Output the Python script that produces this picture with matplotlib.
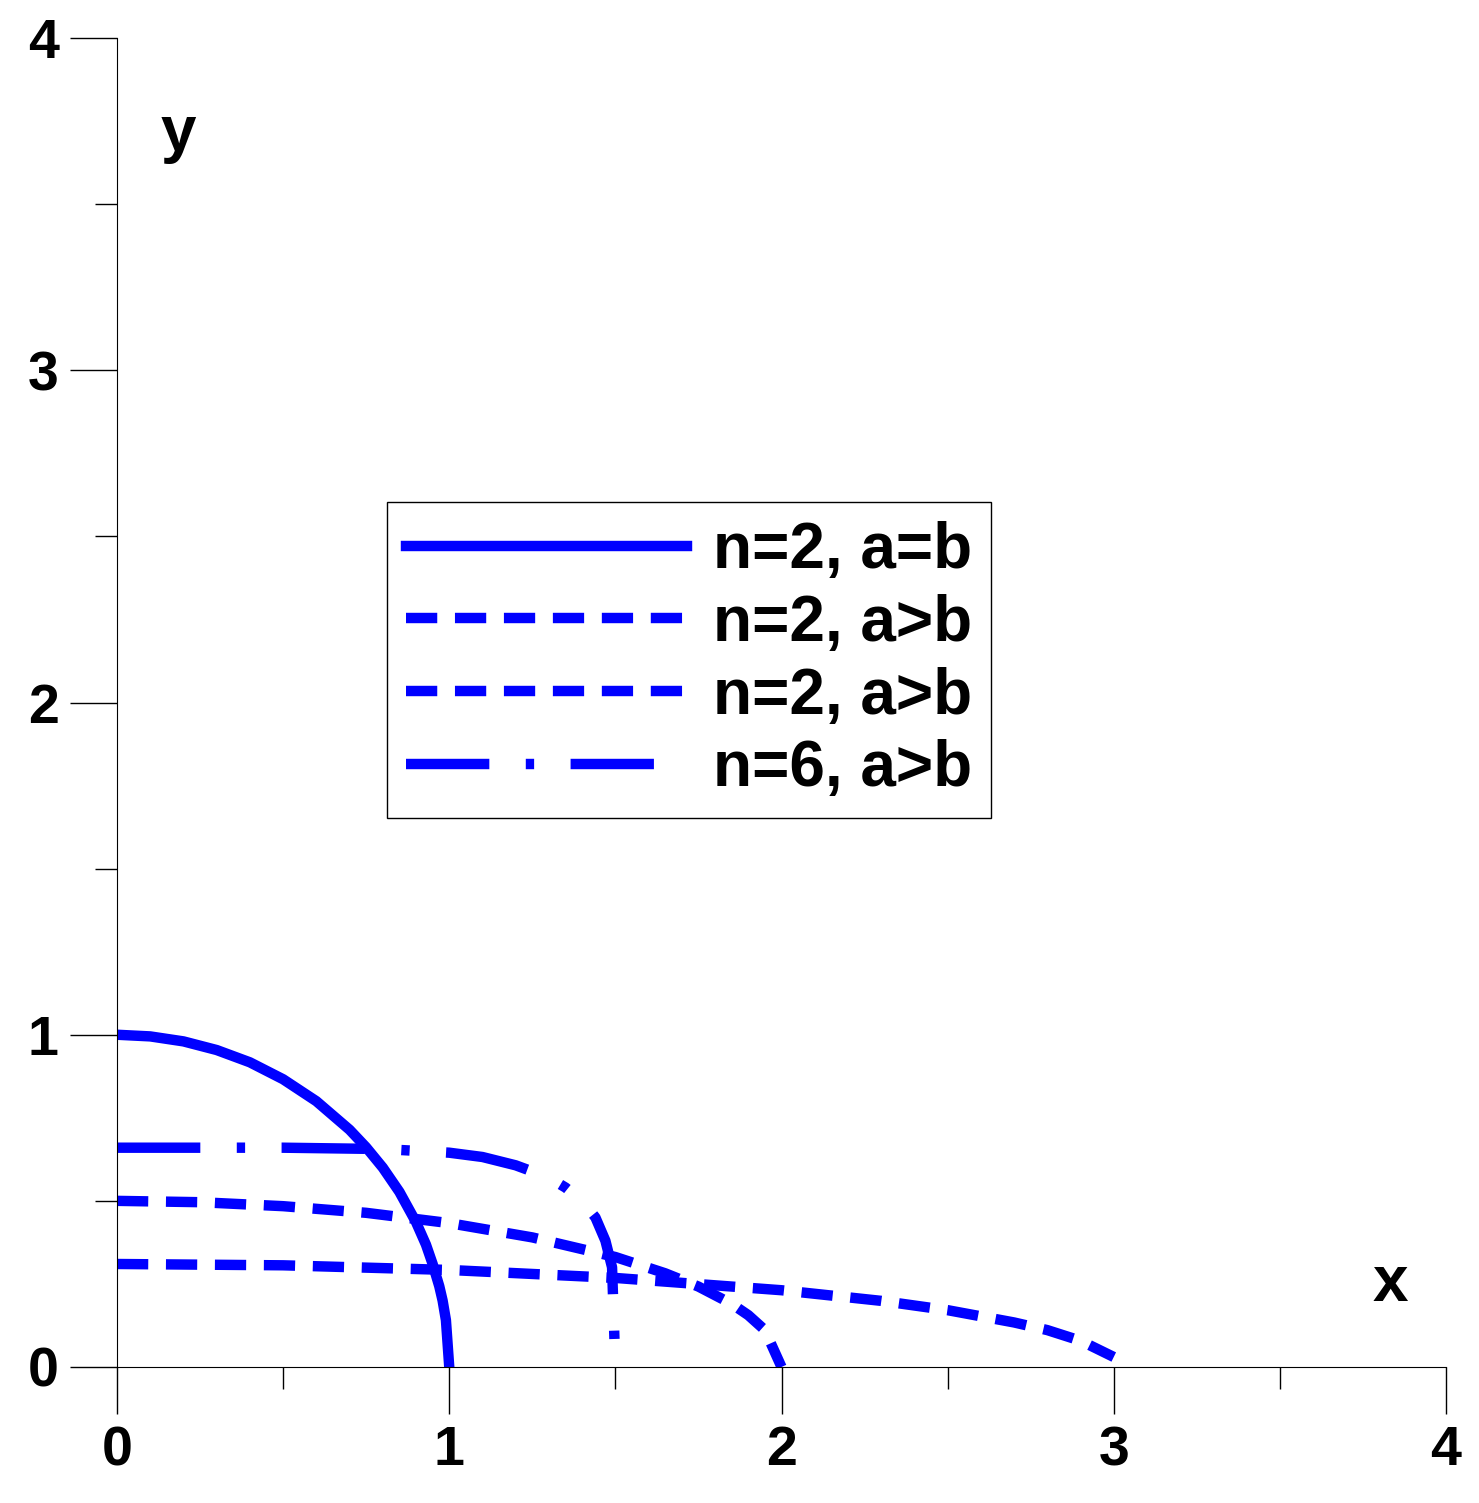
import matplotlib.pyplot as plt

plt.rcParams['font.family'] = ['Liberation Sans', 'DejaVu Sans']
plt.rcParams['font.weight'] = 'bold'

# values
circ_x = [0, 0.1, 0.2, 0.3, 0.4, 0.5, 0.6, 0.7, 0.75, 0.8, 0.85, 0.9, 0.93, 0.95, 0.97, 0.98, 0.99, 1.0]
circ_y = [1, 0.995, 0.98, 0.954, 0.917, 0.866, 0.8, 0.714, 0.661, 0.6, 0.527, 0.436, 0.368, 0.31, 0.243, 0.2, 0.141, 0.0]

ell2_x = [0, 0.25, 0.5, 0.75, 1.0, 1.25, 1.5, 1.65, 1.75, 1.85, 1.9, 1.95, 2.0]
ell2_y = [0.5, 0.496, 0.484, 0.464, 0.433, 0.39, 0.331, 0.282, 0.242, 0.19, 0.156, 0.111, 0.0]

ell3_x = [0, 0.5, 1.0, 1.5, 2.0, 2.3, 2.5, 2.7, 2.8, 2.9, 3.0]
ell3_y = [0.31, 0.306, 0.292, 0.268, 0.231, 0.199, 0.171, 0.134, 0.111, 0.079, 0.03]

sup6_x = [0, 0.5, 0.8, 1.0, 1.1, 1.2, 1.3, 1.35, 1.4, 1.44, 1.47, 1.49, 1.5]
sup6_y = [0.66, 0.66, 0.656, 0.645, 0.632, 0.607, 0.57, 0.54, 0.5, 0.45, 0.38, 0.3, 0.0]

labels = ["n=2, a=b", "n=2, a>b", "n=2, a>b", "n=6, a>b"]
blue = '#0000ff'

fig = plt.figure(figsize=(14.79, 15.03), dpi=100)
ax = fig.add_axes([0.0791, 0.0905, 0.8986, 0.8842])
lw = 7.5
ax.plot(circ_x, circ_y, color=blue, lw=lw, label=labels[0])
ax.plot(ell2_x, ell2_y, color=blue, lw=lw, dashes=(3, 1.7), label=labels[1])
ax.plot(ell3_x, ell3_y, color=blue, lw=lw, dashes=(3, 1.7), label=labels[2])
ax.plot(sup6_x, sup6_y, color=blue, lw=lw, dashes=(8, 3.5, 0.8, 3.5), label=labels[3])

ax.set_xlim(0, 4)
ax.set_ylim(0, 4)
ax.spines['top'].set_visible(False)
ax.spines['right'].set_visible(False)
ax.set_xticks([0, 1, 2, 3, 4])
ax.set_yticks([0, 1, 2, 3, 4])
ax.set_xticks([0.5, 1.5, 2.5, 3.5], minor=True)
ax.set_yticks([0.5, 1.5, 2.5, 3.5], minor=True)
ax.tick_params(which='major', length=34, width=1, labelsize=40, pad=8)
ax.tick_params(which='minor', length=16, width=1)
for t in ax.get_xticklabels() + ax.get_yticklabels():
    t.set_fontweight('bold')

ax.text(0.13, 3.66, 'y', fontsize=46, fontweight='bold')
ax.text(3.78, 0.2, 'x', fontsize=46, fontweight='bold')

leg = ax.legend(loc='upper left', bbox_to_anchor=(0.203, 0.651), fontsize=46,
                handlelength=4.4, fancybox=False, framealpha=1,
                borderpad=0.3, labelspacing=0.2, handletextpad=0.4,
                borderaxespad=0)
leg.get_frame().set_edgecolor('black')
leg.get_frame().set_linewidth(1)
for t in leg.get_texts():
    t.set_fontweight('bold')

fig.savefig('out.png', dpi=100)
